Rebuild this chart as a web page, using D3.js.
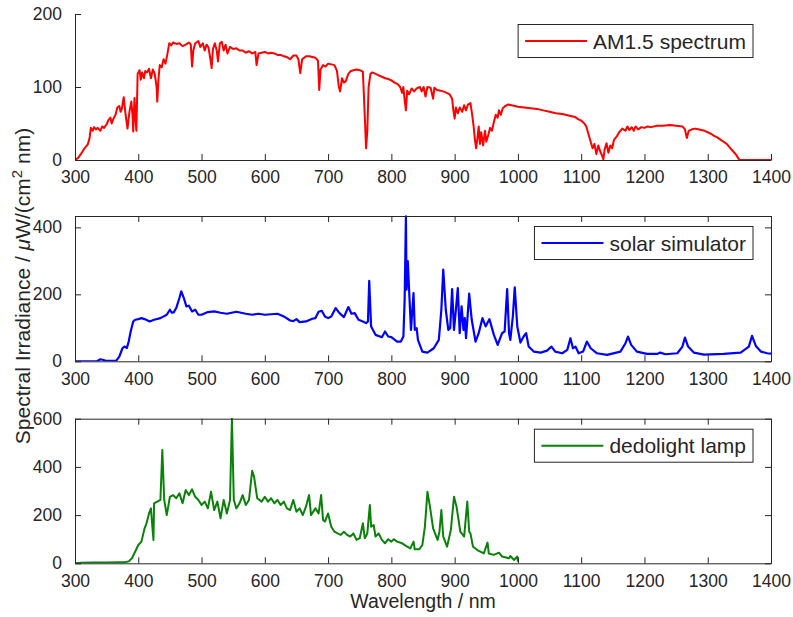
<!DOCTYPE html>
<html>
<head>
<meta charset="utf-8">
<script src="https://cdn.jsdelivr.net/npm/d3@7"></script>
<style>
  html, body { margin: 0; padding: 0; background: #fff; }
  svg text { font-family: "Liberation Sans", Arial, Helvetica, sans-serif; fill: #262626; }
</style>
</head>
<body>
<svg id="chart" width="793" height="617"></svg>
<script>
// ---------------- DATA ----------------
const xTicks = [300, 400, 500, 600, 700, 800, 900, 1000, 1100, 1200, 1300, 1400];
const yTicksAM = [0, 100, 200];
const yTicksSim = [0, 200, 400];
const yTicksLamp = [0, 200, 400, 600];

const labelAM = "AM1.5 spectrum";
const labelSim = "solar simulator";
const labelLamp = "dedolight lamp";

const amWl = [300,305,310,315,320,323,325,328,330,333,336,340,343,346,350,353,356,358,361,364,367,370,372,374,377,380,383,386,389,391,392,394,396,397,399,402,404,406,409,411,414,417,420,423,426,429,430,432,434,437,440,443,446,449,452,455,460,465,470,475,480,483,485,487,490,495,498,502,505,508,511,514,516,518,521,524,526,529,532,535,538,541,545,550,555,560,565,570,575,580,585,587,590,595,600,605,610,615,620,625,630,635,640,645,650,653,656,659,665,670,675,680,684,686,688,692,696,700,705,710,714,717,719,722,725,728,732,736,740,745,750,755,758,760,762,764,767,770,775,780,785,790,795,800,805,810,814,817,819,821,823,825,828,832,836,840,845,848,851,854,857,862,866,868,872,878,885,892,896,898,900,902,905,908,912,915,918,921,925,928,930,932,934,936,938,940,942,945,948,950,953,956,959,962,965,968,970,973,976,980,985,990,995,1000,1010,1020,1030,1040,1050,1060,1070,1080,1090,1095,1100,1105,1108,1112,1115,1118,1121,1124,1127,1130,1133,1135,1137,1140,1143,1146,1149,1152,1156,1160,1165,1170,1173,1176,1180,1183,1186,1190,1195,1200,1205,1210,1220,1230,1240,1250,1260,1264,1267,1270,1275,1280,1285,1290,1295,1300,1305,1310,1315,1320,1325,1330,1335,1340,1345,1350,1400];
const amVal = [0,3,9,16,21,30,44,40,45,42,44,40,46,44,49,55,58,50,57,62,72,74,66,70,86,62,43,66,80,60,39,85,52,40,118,123,110,120,112,122,120,125,112,124,118,100,80,112,130,127,138,132,145,160,157,161,159,160,156,158,161,158,128,150,160,163,155,160,150,158,154,138,126,152,160,150,135,160,162,150,158,146,155,152,153,150,150,147,149,146,148,130,146,147,148,146,147,146,144,144,142,141,138,143,143,138,119,138,142,142,141,140,136,96,124,130,128,132,131,130,122,100,94,112,106,108,118,122,123,124,123,121,60,16,40,100,118,120,118,116,114,112,111,109,106,104,100,92,100,82,68,95,90,98,94,98,100,94,100,87,100,99,84,99,96,95,93,90,84,68,57,72,64,72,66,75,68,76,78,60,46,28,16,30,46,22,38,20,40,25,34,44,40,52,62,58,68,62,71,74,76,75,74,73,72,71,70,68,66,64,63,61,59,56,54,50,46,34,25,16,22,8,20,12,6,1,14,23,10,20,16,28,32,38,43,40,46,41,45,40,46,42,45,44,46,45,47,47,48,47,46,42,30,40,42,43,42,41,40,38,36,33,31,28,25,22,17,12,7,0,0];

const simWl = [300,335,340,345,350,365,370,375,378,382,385,388,392,395,400,405,410,418,425,435,445,450,453,456,460,465,468,472,476,480,485,490,495,500,510,520,530,540,555,570,580,590,600,620,630,640,645,650,655,665,675,680,685,690,695,700,705,712,718,725,732,737,742,748,755,760,763,765,768,775,785,790,795,800,809,815,819,821,823,824,826,828,831,835,837,840,842,849,857,867,875,879,882,886,890,893,896,899,902,905,908,911,914,916,918,923,927,933,938,944,949,955,962,968,975,979,983,986,988,992,995,999,1004,1009,1013,1017,1025,1036,1046,1053,1059,1070,1078,1083,1087,1091,1096,1103,1109,1115,1125,1141,1162,1170,1174,1179,1188,1204,1220,1225,1233,1252,1260,1264,1269,1278,1294,1325,1352,1365,1370,1376,1384,1394,1400];
const simVal = [0,0,6,4,1,1,14,39,44,40,60,89,119,124,126,129,126,119,124,129,139,154,145,146,159,189,209,189,164,166,149,154,139,139,147,149,145,142,148,142,139,142,139,142,134,122,120,126,117,119,127,129,148,151,134,129,134,159,144,132,162,142,144,124,119,114,119,240,104,79,72,89,74,72,59,59,74,184,433,214,299,214,94,204,94,99,64,29,26,39,64,154,274,154,94,99,216,94,154,219,84,164,94,129,69,202,124,59,84,129,104,126,79,49,84,89,216,84,64,134,221,104,56,74,84,44,29,26,32,44,29,24,34,69,39,44,24,29,59,39,24,19,29,54,74,49,29,22,22,26,21,24,44,71,44,26,20,22,26,44,76,46,29,24,23];

const lampWl = [300,310,330,350,370,380,385,390,395,400,405,410,413,417,420,422,424,425,430,435,438,441,445,450,455,460,465,470,475,480,485,490,495,500,505,510,515,520,525,530,535,540,545,548,551,555,560,565,570,575,580,583,588,595,600,605,610,615,620,625,630,635,640,645,650,655,660,665,670,673,680,685,689,692,695,700,705,710,715,720,725,730,735,740,745,750,755,758,762,766,768,772,775,780,785,790,795,800,804,809,817,825,830,835,837,844,849,853,857,861,866,873,876,879,882,888,894,899,903,909,915,920,923,925,929,936,946,952,954,962,970,975,986,988,994,999,1000];
const lampVal = [0,2,3,3,4,5,8,21,48,76,90,145,166,207,228,160,97,249,256,263,470,263,200,276,283,270,290,249,304,283,307,276,263,242,256,228,297,221,256,187,263,207,263,600,263,228,249,283,242,263,384,359,270,256,276,256,270,249,263,242,256,228,221,263,214,228,200,235,283,200,228,207,283,180,173,207,152,131,124,118,131,118,111,124,97,104,166,104,124,242,152,159,111,124,97,83,100,90,100,90,83,69,62,90,58,58,76,152,297,235,145,97,131,221,111,69,138,276,235,131,111,256,131,124,69,55,41,86,41,35,44,28,21,30,14,28,7];

// ---------------- LAYOUT ----------------
const svg = d3.select("#chart");
const axisColor = "#262626";
const X0 = 75, X1 = 771;
const x = d3.scaleLinear().domain([300, 1400]).range([X0, X1]);

const panels = [
  { wl: amWl, val: amVal, yMax: 200, ticks: yTicksAM, top: 14, bottom: 160, color: "#ff0000", label: labelAM, box: false, lw: 2 },
  { wl: simWl, val: simVal, yMax: 434, ticks: yTicksSim, top: 216, bottom: 361.3, color: "#0000ff", label: labelSim, box: true, lw: 2.2 },
  { wl: lampWl, val: lampVal, yMax: 600, ticks: yTicksLamp, top: 418.7, bottom: 563.3, color: "#0a820a", label: labelLamp, box: true, lw: 2 }
];

panels.forEach((p, i) => {
  const y = d3.scaleLinear().domain([0, p.yMax]).range([p.bottom, p.top]);
  const g = svg.append("g");

  const clipId = "clip" + i;
  svg.append("clipPath").attr("id", clipId)
    .append("rect").attr("x", X0).attr("y", p.top - 1).attr("width", X1 - X0).attr("height", p.bottom - p.top + 1);

  const data = p.wl.map((w, k) => [w, p.val[k]]);
  const line = d3.line().x(d => x(d[0])).y(d => y(d[1]));

  g.append("path").datum(data)
    .attr("d", line)
    .attr("fill", "none")
    .attr("stroke", p.color)
    .attr("stroke-width", p.lw)
    .attr("stroke-linejoin", "round")
    .attr("clip-path", `url(#${clipId})`);

  // bottom axis
  const xb = d3.axisBottom(x).tickValues(xTicks).tickSizeInner(-6).tickSizeOuter(0).tickPadding(11).tickFormat(d3.format("d"));
  const gx = g.append("g").attr("transform", `translate(0,${p.bottom})`).call(xb);
  gx.select(".domain").attr("stroke", axisColor);
  gx.selectAll(".tick line").attr("stroke", axisColor);
  gx.selectAll(".tick text").attr("font-size", 17.5).attr("fill", axisColor)
    .attr("font-family", "Liberation Sans, Arial, sans-serif").attr("dy", "0.71em");

  // left axis
  const yl = d3.axisLeft(y).tickValues(p.ticks).tickSizeInner(-6).tickSizeOuter(0).tickPadding(13).tickFormat(d3.format("d"));
  const gy = g.append("g").attr("transform", `translate(${X0},0)`).call(yl);
  gy.select(".domain").attr("stroke", axisColor);
  gy.selectAll(".tick line").attr("stroke", axisColor);
  gy.selectAll(".tick text").attr("font-size", 17.5).attr("fill", axisColor)
    .attr("font-family", "Liberation Sans, Arial, sans-serif");

  if (p.box) {
    const xt = d3.axisTop(x).tickValues(xTicks).tickSizeInner(-6).tickSizeOuter(0).tickFormat("");
    const gt = g.append("g").attr("transform", `translate(0,${p.top})`).call(xt);
    gt.select(".domain").attr("stroke", axisColor);
    gt.selectAll(".tick line").attr("stroke", axisColor);
    const yr = d3.axisRight(y).tickValues(p.ticks).tickSizeInner(-6).tickSizeOuter(0).tickFormat("");
    const gr = g.append("g").attr("transform", `translate(${X1},0)`).call(yr);
    gr.select(".domain").attr("stroke", axisColor);
    gr.selectAll(".tick line").attr("stroke", axisColor);
  }

  // legend
  const lg = g.append("g");
  const txt = lg.append("text").text(p.label).attr("font-size", 21).attr("fill", "#000");
  const tw = txt.node().getComputedTextLength();
  const legW = 7 + 62 + 6 + tw + 7;
  const legH = 33;
  const legRight = X1 - 18;
  const legTop = p.top + 10.5;
  const legLeft = legRight - legW;
  lg.insert("rect", "text")
    .attr("x", legLeft).attr("y", legTop).attr("width", legW).attr("height", legH)
    .attr("fill", "#fff").attr("stroke", axisColor).attr("stroke-width", 1);
  lg.append("line")
    .attr("x1", legLeft + 7).attr("x2", legLeft + 69)
    .attr("y1", legTop + legH / 2).attr("y2", legTop + legH / 2)
    .attr("stroke", p.color).attr("stroke-width", p.lw);
  txt.attr("x", legLeft + 75).attr("y", legTop + legH / 2 + 7.6);
});

// x label
svg.append("text")
  .attr("x", (X0 + X1) / 2).attr("y", 608)
  .attr("text-anchor", "middle").attr("font-size", 19.5)
  .text("Wavelength / nm");

// y label
const yLab = svg.append("text")
  .attr("transform", "translate(30,286) rotate(-90)")
  .attr("text-anchor", "middle").attr("font-size", 21);
yLab.append("tspan").text("Spectral Irradiance / ");
yLab.append("tspan").attr("font-style", "italic").text("\u03BC");
yLab.append("tspan").text("W/(cm");
yLab.append("tspan").attr("font-size", 15).attr("dy", -8).text("2");
yLab.append("tspan").attr("dy", 8).text(" nm)");
</script>
</body>
</html>
